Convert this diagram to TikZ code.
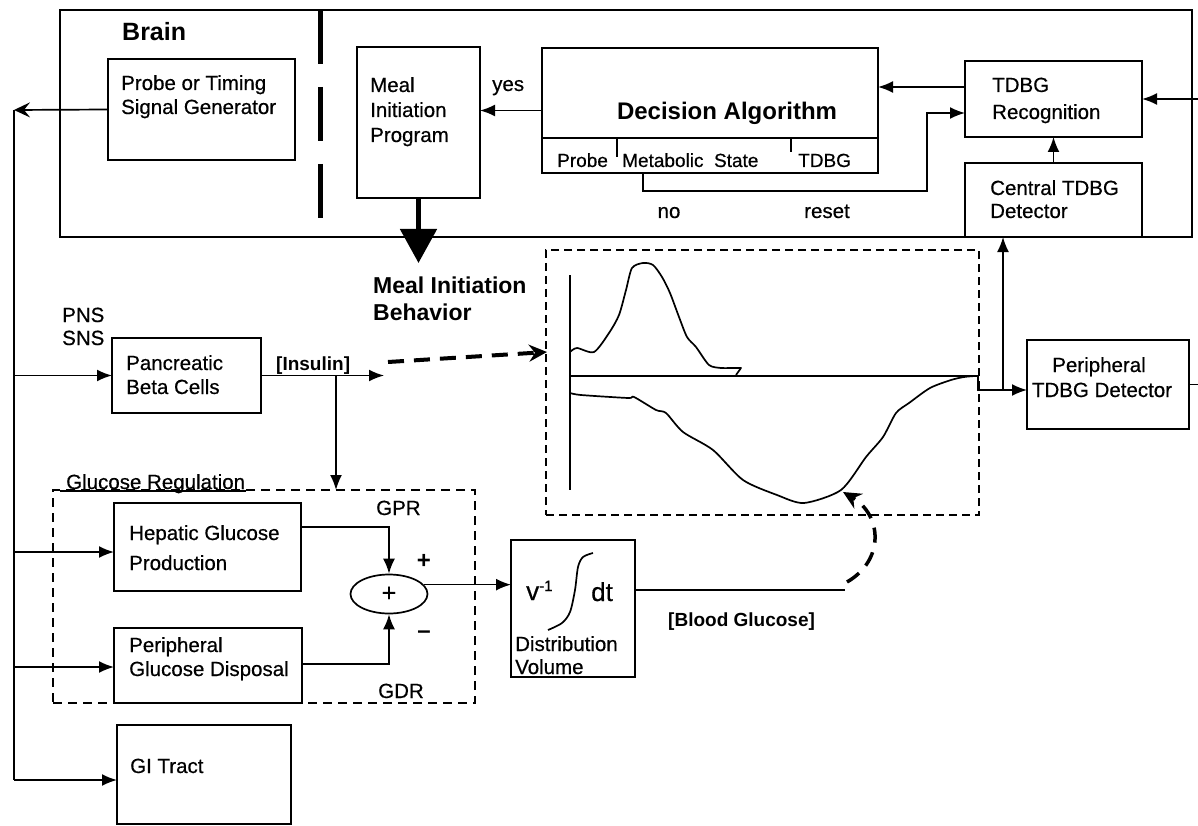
\documentclass[tikz,border=0pt]{standalone}
\usepackage{fontspec}
\setmainfont{Liberation Sans}[UprightFeatures={FakeBold=0.5}]
\usetikzlibrary{arrows.meta,shapes.geometric}
\begin{document}
\begin{tikzpicture}[x=1pt,y=-1pt,
  box/.style={draw,line width=1.7pt,inner sep=0pt,outer sep=0pt},
  dbox/.style={draw,line width=1.5pt,dash pattern=on 9pt off 6pt,inner sep=0pt,outer sep=0pt},
  t/.style={font=\fontsize{20.5}{24}\selectfont,anchor=base west,inner sep=0pt},
  tc/.style={t,anchor=base},
  tb/.style={font=\fontsize{24}{28}\selectfont\bfseries,anchor=base west,inner sep=0pt},
  ln/.style={line width=1.7pt},
  arr/.style={line width=1.7pt,-{Latex[length=15pt,width=12pt]}},
  sarr/.style={line width=1.7pt,-{Stealth[length=16pt,width=15pt,inset=6pt]}},
  curve/.style={line width=1.7pt,line join=round}]
\useasboundingbox (0,0) rectangle (1198,826);
\fill[white] (0,0) rectangle (1198,826);

% ---------- Brain ----------
\node[box,minimum width=1132pt,minimum height=227pt] (brain) at (626,123.5) {};
\node[tb,font=\fontsize{25}{28}\selectfont\bfseries] (brainlbl) at (122,41) {Brain};
\draw[line width=5pt,dash pattern=on 54pt off 23pt] (320,10) -- (320,218);

\node[box,minimum width=187pt,minimum height=101pt] (probe) at (201.5,109.5) {};
\node[t] (probe1) at (121,90) {Probe or Timing};
\node[t] (probe2) at (121,114) {Signal Generator};

\node[box,minimum width=123pt,minimum height=151pt] (meal) at (418.5,122.5) {};
\node[t] (meal1) at (370,92) {Meal};
\node[t] (meal2) at (370,117) {Initiation};
\node[t] (meal3) at (370,142) {Program};

\node[box,minimum width=336pt,minimum height=125pt] (dec) at (710,110.5) {};
\draw[ln] (542,138) -- (878,138);
\draw[line width=1.3pt] (617,138) -- (617,157);
\draw[line width=1.3pt] (791,138) -- (791,152);
\node[tb,anchor=base] (declbl) at (727,120) {Decision Algorithm};
\node[t,font=\fontsize{19}{22}\selectfont] (dprobe) at (557,167) {Probe};
\node[t,font=\fontsize{19}{22}\selectfont] (dmeta) at (622,167) {Metabolic\ \ State};
\node[t,font=\fontsize{19}{22}\selectfont] (dtdbg) at (798,167) {TDBG};
\node[t] (yes) at (492,91) {yes};
\node[tc] (no) at (669,218) {no};
\node[tc] (reset) at (827,218) {reset};

\node[box,minimum width=177pt,minimum height=76pt] (recog) at (1053.5,99) {};
\node[t] (recog1) at (992,92) {TDBG};
\node[t] (recog2) at (992,119) {Recognition};

\node[box,minimum width=177pt,minimum height=74pt] (central) at (1053.5,200) {};
\node[t] (central1) at (990,195) {Central TDBG};
\node[t] (central2) at (990,218) {Detector};

% brain connectors
\draw[arr] (dec.west) -- (meal.east |- dec.west);
\draw[arr] (recog.west |- 0,87) -- (dec.east |- 0,87);
\coordinate (r0) at (643,173);
\draw[ln,-{Latex[length=15pt,width=12pt]}] (r0) -- (643,191) -- (927,191) -- (927,113) -- (recog.west |- 0,113);
\draw[arr] (central.north) -- (recog.south);
\draw[arr] (recog.east -| 1198,0) -- (recog.east);
\draw[line width=5pt,-{Triangle[length=34pt,width=36pt]}] (meal.south) -- ++(0,65);
\node[tb,font=\fontsize{23}{28}\selectfont\bfseries] (mib1) at (373,293) {Meal Initiation};
\node[tb,font=\fontsize{23}{28}\selectfont\bfseries] (mib2) at (373,320) {Behavior};

% ---------- left bus ----------
\coordinate (b0) at (14,110);
\draw[sarr] (probe.west) -- (b0);
\draw[ln] (b0) -- (14,780);
\node[t] (pns) at (62,322) {PNS};
\node[t] (sns) at (62,345) {SNS};

\node[box,minimum width=149pt,minimum height=75pt] (panc) at (186.5,375.5) {};
\node[t] (panc1) at (126,370) {Pancreatic};
\node[t] (panc2) at (126,394) {Beta Cells};
\draw[arr] (14,375.5) -- (panc.west);

\coordinate (ins) at (384,375.5);
\draw[arr] (panc.east) -- (ins);
\node[t,font=\fontsize{19}{22}\selectfont\bfseries] (inslbl) at (276,370) {[Insulin]};

% ---------- glucose regulation ----------
\node[dbox,minimum width=422pt,minimum height=213pt] (glu) at (264,596.5) {};
\draw[line width=1.3pt] (60,491) -- (246,491);
\node[t] (glulbl) at (66,489) {Glucose Regulation};
\coordinate (insd) at (336,375.5);
\draw[arr] (insd) -- (insd |- glu.north);

\node[box,minimum width=187pt,minimum height=88pt] (hep) at (207.5,547) {};
\node[t] (hep1) at (129,540) {Hepatic Glucose};
\node[t] (hep2) at (129,570) {Production};
\draw[arr] (14,552) -- (hep.west |- 0,552);

\node[box,minimum width=188pt,minimum height=75pt] (pgd) at (208,665.5) {};
\node[t] (pgd1) at (129,652) {Peripheral};
\node[t] (pgd2) at (129,676) {Glucose Disposal};
\draw[arr] (14,667) -- (pgd.west |- 0,667);

\node[box,minimum width=174pt,minimum height=99pt] (gi) at (204,774.5) {};
\node[t] (gi1) at (130,773) {GI Tract};
\draw[arr] (14,780) -- (gi.west |- 0,780);

\node[draw,ellipse,line width=1.7pt,minimum width=77pt,minimum height=39pt,inner sep=0pt,
      font=\fontsize{25}{28}\selectfont] (sum) at (389,594) {+};
\draw[arr] (hep.east |- 0,527) -| (sum.north);
\draw[arr] (pgd.east |- 0,664) -| (sum.south);
\node[t] (gpr) at (376,515) {GPR};
\node[t] (gdr) at (378,698) {GDR};
\node[tc,font=\fontsize{24}{28}\selectfont\bfseries] (plus) at (424,568) {+};
\node[tc,font=\fontsize{24}{28}\selectfont\bfseries] (minus) at (424,638) {–};

% ---------- distribution volume ----------
\node[box,minimum width=124pt,minimum height=137pt] (vbox) at (573,608.5) {};
\draw[arr] (sum.15) -- (vbox.west |- sum.15);
\node[t,font=\fontsize{26}{30}\selectfont] (vinv) at (526,600) {v\raisebox{9pt}{\fontsize{15}{15}\selectfont -1}};
\node[t,font=\fontsize{26}{30}\selectfont] (dt) at (591,601) {dt};
\draw[curve] plot[smooth,tension=0.5] coordinates {(548,630) (562,623) (570,612) (575,590) (578,567) (583,557) (593,553)};
\node[t] (dv1) at (515,651) {Distribution};
\node[t] (dv2) at (515,674) {Volume};

\coordinate (bg) at (845,590);
\draw[ln] (vbox.east |- bg) -- (bg);
\node[t,font=\fontsize{19}{22}\selectfont\bfseries] (bglbl) at (668,626) {[Blood Glucose]};

% ---------- graph ----------
\node[draw,line width=1.5pt,dash pattern=on 8pt off 5pt,minimum width=433pt,minimum height=265pt,inner sep=0pt] (graph) at (762.5,382.5) {};
\draw[line width=1.3pt] (570,275) -- (570,490);
\draw[line width=1.3pt] (570,376) -- (975,376);
\draw[curve] plot[smooth,tension=0.45] coordinates {(570,352) (577,348) (594,352) (609,333) (619,315) (626,290) (632,268) (643,263) (653,265) (662,277) (670,293) (679,317) (687,337) (696,347) (709,365) (721,368) (730,368) (741,368)} -- (736,375);
\draw[curve] plot[smooth,tension=0.45] coordinates {(570,393) (581,395) (628,398) (634,397) (656,410) (666,413) (683,432) (713,450) (743,480) (777,495) (804,503) (841,490) (866,457) (883,437) (896,413) (909,403) (930,388) (951,380) (964,377) (975,376)};

\draw[line width=4pt,dash pattern=on 16pt off 10pt,-{Stealth[length=18pt,width=17pt,inset=6pt]}] (388,362) -- (547,352);
\draw[line width=3.5pt,dash pattern=on 15pt off 10pt,-{Stealth[length=18pt,width=17pt,inset=6pt]}] (847,582) .. controls (885,560) and (882,515) .. (843,492);

% ---------- peripheral detector ----------
\node[box,minimum width=162pt,minimum height=89pt] (perif) at (1108,384.5) {};
\node[tc] (perif1) at (1099,372) {Peripheral};
\node[tc] (perif2) at (1102,397) {TDBG Detector};
\coordinate (jp) at (1003,390);
\draw[ln] (975,376) -- (978,376) -- (978,390) -- (jp);
\draw[arr] (jp) -- (perif.west |- jp);
\draw[arr] (jp) -- (jp |- central.south);
\draw[ln] (perif.east) -- ++(10,0);
\end{tikzpicture}
\end{document}
